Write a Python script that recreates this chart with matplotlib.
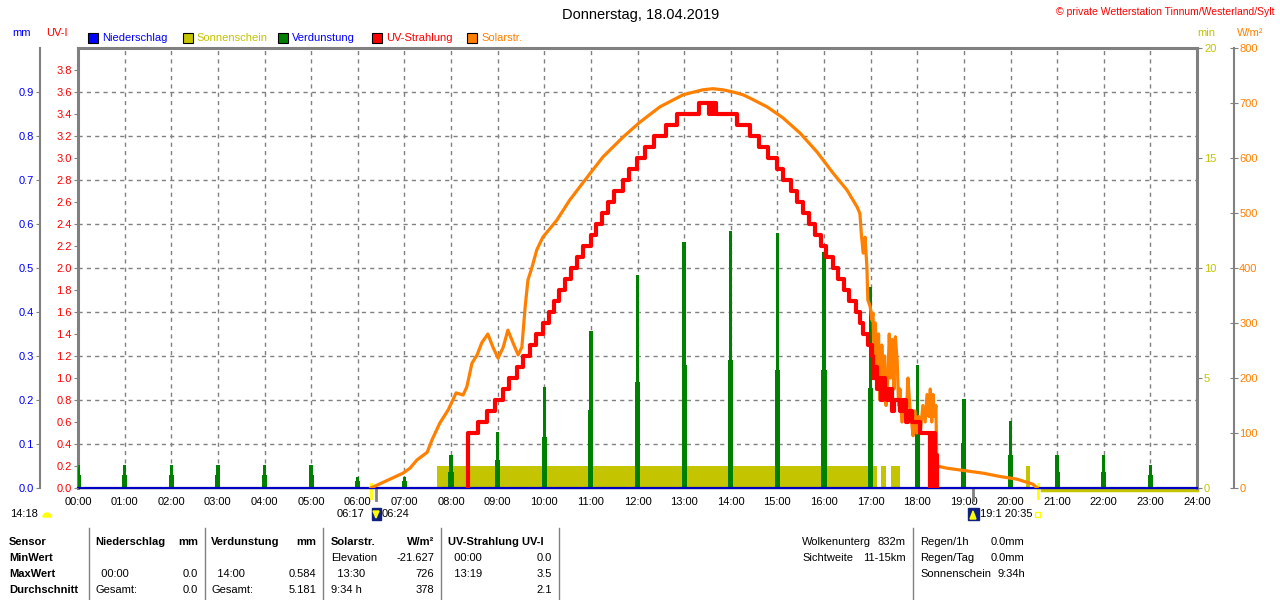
import numpy as np
import matplotlib.pyplot as plt
from matplotlib.lines import Line2D
from matplotlib.patches import Rectangle, Wedge, Polygon

plt.rcParams['font.family'] = ['Liberation Sans', 'DejaVu Sans']
plt.rcParams['font.size'] = 8
plt.rcParams['xtick.labelsize'] = 8
plt.rcParams['ytick.labelsize'] = 8

# ---------------- data ----------------
hours = list(range(25))
hour_labels = ['%02d:00' % h for h in hours]

# Solarstrahlung W/m2 (time in decimal hours)
solar_t = [6.28, 6.41, 6.69, 6.97, 7.12, 7.27, 7.49, 7.59, 7.76, 7.94, 8.11, 8.26, 8.34, 8.45,
           8.56, 8.66, 8.79, 8.90, 9.01, 9.12, 9.22, 9.33, 9.44, 9.52, 9.59, 9.65, 9.74, 9.84,
           9.97, 10.27, 10.55, 10.92, 11.26, 11.69, 12.05, 12.48, 12.98, 13.40, 13.62, 13.83,
           14.05, 14.26, 14.41, 14.78, 15.12, 15.49, 15.85, 16.19, 16.49, 16.71, 16.77, 16.80,
           16.84, 16.88, 16.92, 16.94, 16.99, 17.03, 17.05, 17.08, 17.10, 17.14, 17.17, 17.20,
           17.24, 17.27, 17.30, 17.33, 17.37, 17.40, 17.43, 17.46, 17.50, 17.53, 17.57, 17.60,
           17.63, 17.67, 17.72, 17.77, 17.80, 17.84, 17.88, 17.91, 17.95, 17.99, 18.03, 18.07,
           18.12, 18.17, 18.21, 18.25, 18.28, 18.31, 18.34, 18.37, 18.40, 18.42, 18.64, 19.07,
           19.41, 19.77, 20.14, 20.48, 20.57]
solar_w = [0, 5, 16, 27, 36, 51, 65, 87, 118, 142, 173, 169, 184, 227,
           242, 264, 280, 256, 236, 256, 287, 264, 242, 256, 329, 378, 402, 433,
           456, 487, 524, 565, 602, 638, 665, 693, 715, 724, 726, 724,
           720, 715, 709, 693, 673, 645, 611, 573, 542, 511, 499, 463,
           427, 456, 402, 342, 330, 305, 318, 220, 300, 200, 280, 160,
           260, 200, 240, 150, 200, 280, 200, 270, 180, 275, 230, 150,
           180, 120, 160, 140, 200, 150, 120, 95, 140, 100, 130, 105,
           150, 120, 170, 130, 180, 120, 170, 130, 150, 40, 36, 31,
           27, 21, 16, 7, 0]

# UV-Strahlung (UV-I), value holds until next time
uv_t = [8.36, 8.36, 8.58, 8.77, 8.94, 9.11, 9.24, 9.41, 9.54, 9.69, 9.82, 9.97, 10.10, 10.21,
        10.32, 10.44, 10.57, 10.70, 10.83, 11.00, 11.11, 11.24, 11.37, 11.49, 11.69, 11.82,
        11.99, 12.16, 12.35, 12.61, 12.85, 13.32, 13.54, 13.56, 13.61, 13.63, 13.68, 14.13,
        14.41, 14.60, 14.80, 14.99, 15.12, 15.29, 15.42, 15.55, 15.68, 15.81, 15.93, 16.04,
        16.19, 16.30, 16.43, 16.53, 16.68, 16.77, 16.83, 16.94, 17.03, 17.06, 17.09, 17.13,
        17.18, 17.22, 17.26, 17.30, 17.35, 17.40, 17.45, 17.50, 17.63, 17.70, 17.75, 17.80,
        17.89, 18.06, 18.28, 18.30, 18.33, 18.35, 18.38, 18.40, 18.42]
uv_v = [0.0, 0.5, 0.6, 0.7, 0.8, 0.9, 1.0, 1.1, 1.2, 1.3, 1.4, 1.5, 1.6, 1.7,
        1.8, 1.9, 2.0, 2.1, 2.2, 2.3, 2.4, 2.5, 2.6, 2.7, 2.8, 2.9,
        3.0, 3.1, 3.2, 3.3, 3.4, 3.5, 3.4, 3.5, 3.4, 3.5, 3.4, 3.3,
        3.2, 3.1, 3.0, 2.9, 2.8, 2.7, 2.6, 2.5, 2.4, 2.3, 2.2, 2.1,
        2.0, 1.9, 1.8, 1.7, 1.6, 1.5, 1.4, 1.3, 1.2, 1.0, 1.1, 0.9,
        1.0, 0.8, 1.0, 0.9, 0.8, 0.9, 0.7, 0.8, 0.7, 0.8, 0.6, 0.7,
        0.6, 0.5, 0.0, 0.5, 0.0, 0.5, 0.0, 0.3, 0.0]

# Verdunstung mm, hourly (peak and shoulder)
evap_h = list(range(24))
evap_mm = [0.052, 0.052, 0.052, 0.052, 0.052, 0.052, 0.025, 0.025, 0.075, 0.127, 0.230, 0.357,
           0.484, 0.559, 0.584, 0.579, 0.536, 0.457, 0.280, 0.202, 0.152, 0.075, 0.075, 0.052]
evap_low = [0.030, 0.030, 0.030, 0.030, 0.030, 0.030, 0.015, 0.015, 0.036, 0.064, 0.116, 0.177,
            0.241, 0.280, 0.290, 0.268, 0.268, 0.227, 0.139, 0.102, 0.075, 0.036, 0.036, 0.030]

# Sonnenschein min, blocks
sun_start = [7.70, 17.22, 17.44, 20.33]
sun_end = [17.14, 17.33, 17.63, 20.42]
sun_min = [1.0, 1.0, 1.0, 1.0]

# Niederschlag mm
rain_mm = [0.0, 0.0, 0.0, 0.0, 0.0, 0.0, 0.0, 0.0, 0.0, 0.0, 0.0, 0.0, 0.0,
           0.0, 0.0, 0.0, 0.0, 0.0, 0.0, 0.0, 0.0, 0.0, 0.0, 0.0, 0.0]

sunrise, sunset = 6.28, 20.58
night_start = 20.68
moon_marks = [6.40, 19.20]

legend_names = ['Niederschlag', 'Sonnenschein', 'Verdunstung', 'UV-Strahlung', 'Solarstr.']

# ---------------- colours ----------------
GRAY = '#808080'
BLUE = '#0000ff'
OLIVE = '#c4c400'
GREEN = '#008000'
RED = '#ff0000'
ORANGE = '#ff8000'
YELLOW = '#ffff00'
NAVY = '#102080'

legend_box = [BLUE, OLIVE, GREEN, RED, ORANGE]
legend_txt = [BLUE, OLIVE, BLUE, RED, ORANGE]

W, H = 1280, 600


def fx(x):
    return x / W


def fy(y):
    return 1 - y / H


def inch(x, y):
    return (x / 100, (H - y) / 100)


fig = plt.figure(figsize=(12.8, 6.0), dpi=100)
rect = [fx(78), fy(488), fx(1197) - fx(78), fy(48) - fy(488)]

# base axes: frame, grid, hour labels
ax = fig.add_axes(rect, zorder=0)
ax.set_xlim(0, 24)
ax.set_ylim(0, 4)
ax.set_xticks(hours, hour_labels)
ax.set_yticks(np.arange(0, 4.01, 0.4))
ax.tick_params(axis='y', length=0, labelleft=False)
ax.tick_params(axis='x', length=0, pad=6.5)
ax.grid(True, color=GRAY, linestyle=(0, (3, 3)), linewidth=1)
for s in ['top', 'left', 'right']:
    ax.spines[s].set(color=GRAY, linewidth=2.2)
ax.spines['bottom'].set(color=GRAY, linewidth=1)


def overlay(z, lo, hi):
    a = fig.add_axes(rect, zorder=z)
    a.patch.set_visible(False)
    a.set_xlim(0, 24)
    a.set_ylim(lo, hi)
    a.tick_params(axis='x', bottom=False, labelbottom=False)
    for sp in a.spines.values():
        sp.set_visible(False)
    return a


# sunshine (min)
ax_min = overlay(1, 0, 20)
ax_min.yaxis.tick_right()
ax_min.set_yticks([0, 5, 10, 15, 20])
ax_min.tick_params(axis='y', length=3.5, color=GRAY, labelcolor=OLIVE, pad=1.5)
ax_min.bar(sun_start, sun_min, width=np.array(sun_end) - np.array(sun_start),
           align='edge', color=OLIVE, linewidth=0)

# evaporation + precipitation (mm)
ax_mm = overlay(2, 0, 1)
mm_ticks = np.arange(0, 0.95, 0.1)
ax_mm.set_yticks(mm_ticks, ['%.1f' % v for v in mm_ticks])
ax_mm.spines['left'].set_visible(True)
ax_mm.spines['left'].set_position(('outward', 27.4))
ax_mm.spines['left'].set(color=GRAY, linewidth=1.5)
ax_mm.tick_params(axis='y', length=3, color=GRAY, labelcolor=BLUE, pad=1.5)
ax_mm.bar(evap_h, evap_low, width=0.11, color=GREEN, linewidth=0)
ax_mm.bar(evap_h, evap_mm, width=0.07, color=GREEN, linewidth=0)
ax_mm.plot(hours, rain_mm, color='#0000c0', linewidth=1.6, clip_on=False)

# solar radiation (W/m2)
ax_w = overlay(3, 0, 800)
ax_w.yaxis.tick_right()
ax_w.set_yticks(range(0, 801, 100))
ax_w.spines['right'].set_visible(True)
ax_w.spines['right'].set_position(('outward', 26.6))
ax_w.spines['right'].set(color=GRAY, linewidth=1.5)
ax_w.tick_params(axis='y', direction='inout', length=5.5, color=GRAY,
                 labelcolor=ORANGE, pad=1)
ax_w.plot(solar_t, solar_w, color=ORANGE, linewidth=2.3)

# UV index
ax_uv = overlay(4, 0, 4)
uv_ticks = np.arange(0, 3.85, 0.2)
ax_uv.set_yticks(uv_ticks, ['%.1f' % v for v in uv_ticks])
ax_uv.tick_params(axis='y', length=3, color=GRAY, labelcolor=RED, pad=1.5)
ax_uv.plot(uv_t, uv_v, drawstyle='steps-post', color=RED, linewidth=3)

# sunrise / sunset / moon marks under the axis
xt = ax.get_xaxis_transform()
for t in [sunrise, sunset]:
    ax.plot([t, t], [0.008, -0.022], transform=xt, color=YELLOW, linewidth=2, clip_on=False)
for t in moon_marks:
    ax.plot([t, t], [0.0, -0.028], transform=xt, color=GRAY, linewidth=2, clip_on=False)
ax.plot([night_start, 24], [-0.004, -0.004], transform=xt, color=OLIVE, linewidth=2.5,
        clip_on=False)

# ---------------- header ----------------
fig.text(fx(641), fy(15), 'Donnerstag, 18.04.2019', ha='center', va='center', fontsize=10.5)
fig.text(fx(1275), fy(12), '© private Wetterstation Tinnum/Westerland/Sylt', ha='right',
         va='center', color=RED, fontsize=7.5)
fig.text(fx(22), fy(33), 'mm', color=BLUE, ha='center', va='center')
fig.text(fx(57), fy(33), 'UV-I', color=RED, ha='center', va='center')
fig.text(fx(1206), fy(33), 'min', color=OLIVE, ha='center', va='center')
fig.text(fx(1250), fy(33), 'W/m²', color=ORANGE, ha='center', va='center')

for i, name in enumerate(legend_names):
    x0 = 88 + i * 94.8
    fig.add_artist(Rectangle(inch(x0, 43), 0.10, 0.10, transform=fig.dpi_scale_trans,
                             facecolor=legend_box[i], edgecolor='black', linewidth=0.8))
    fig.text(fx(x0 + 14), fy(38), name, color=legend_txt[i], ha='left', va='center')

# ---------------- sun / moon info below the axis ----------------
fig.text(fx(10), fy(514), '14:18', ha='left', va='center')
fig.add_artist(Wedge(inch(47, 517), 0.04, 0, 180, transform=fig.dpi_scale_trans, color=YELLOW))
fig.text(fx(364), fy(514), '06:17', ha='right', va='center')
fig.add_artist(Rectangle(inch(372, 520), 0.09, 0.12, transform=fig.dpi_scale_trans, color=NAVY))
fig.add_artist(Polygon([inch(373, 511), inch(379, 511), inch(376, 518)], closed=True,
                       transform=fig.dpi_scale_trans, color=YELLOW))
fig.text(fx(382), fy(514), '06:24', ha='left', va='center')
fig.add_artist(Rectangle(inch(968, 520), 0.11, 0.12, transform=fig.dpi_scale_trans, color=NAVY))
fig.add_artist(Polygon([inch(970, 519), inch(976, 519), inch(973, 511)], closed=True,
                       transform=fig.dpi_scale_trans, color=YELLOW))
fig.text(fx(980), fy(514), '19:1 20:35', ha='left', va='center')
fig.add_artist(Rectangle(inch(1035, 517), 0.05, 0.05, transform=fig.dpi_scale_trans,
                         facecolor='none', edgecolor=YELLOW, linewidth=1))

# ---------------- table ----------------
table_rows = [
    ['Sensor', 'Niederschlag', 'mm', 'Verdunstung', 'mm', 'Solarstr.', 'W/m²', 'UV-Strahlung UV-I', ''],
    ['MinWert', '', '', '', '', 'Elevation', '-21.627', '  00:00', '0.0'],
    ['MaxWert', '  00:00', '0.0', '  14:00', '0.584', '  13:30', '726', '  13:19', '3.5'],
    ['Durchschnitt', 'Gesamt:', '0.0', 'Gesamt:', '5.181', '9:34 h', '378', '', '2.1'],
]
col_x = [9, 95, 198, 211, 316, 331, 434, 448, 552]
col_ha = ['left', 'left', 'right', 'left', 'right', 'left', 'right', 'left', 'right']
row_y = [542, 558, 574, 590]
for r, row in enumerate(table_rows):
    for c, txt in enumerate(row):
        bold = (r == 0 or c == 0)
        fig.text(fx(col_x[c]), fy(row_y[r]), txt, ha=col_ha[c], va='center',
                 fontweight='bold' if bold else 'normal')

for x in [89, 205, 323, 441, 559]:
    fig.add_artist(Line2D([fx(x), fx(x)], [fy(528), fy(600)], color=GRAY, linewidth=1))
fig.add_artist(Line2D([fx(913), fx(913)], [fy(528), fy(600)], color=GRAY, linewidth=1))

info_left = [('Wolkenunterg', '832m'), ('Sichtweite', '11-15km')]
info_right = [('Regen/1h', '0.0mm'), ('Regen/Tag', '0.0mm'), ('Sonnenschein', '9:34h')]
info_right_x = [991, 991, 997]
for i, (k, v) in enumerate(info_left):
    fig.text(fx(802), fy(row_y[i]), k, ha='left', va='center')
    fig.text(fx(906), fy(row_y[i]), v, ha='right', va='center')
for i, (k, v) in enumerate(info_right):
    fig.text(fx(920), fy(row_y[i]), k, ha='left', va='center')
    fig.text(fx(info_right_x[i]), fy(row_y[i]), v, ha='left', va='center')

fig.savefig('out.png', dpi=100)
